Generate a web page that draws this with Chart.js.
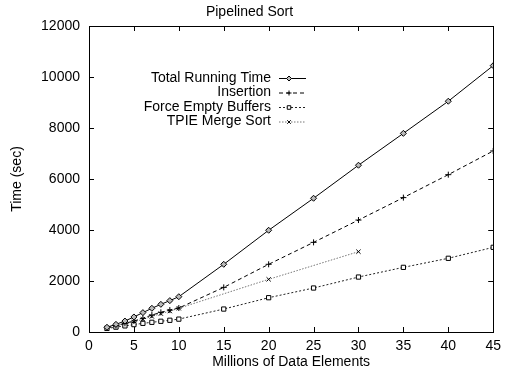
<!DOCTYPE html>
<html>
<head>
<meta charset="utf-8">
<script src="https://cdn.jsdelivr.net/npm/chart.js@4.4.0/dist/chart.umd.min.js"></script>
<style>
  html, body { margin: 0; padding: 0; background: #fff; }
  #wrap { width: 507px; height: 373px; }
</style>
</head>
<body>
<div id="wrap"><canvas id="sortChart" width="507" height="373"></canvas></div>
<script>
// x positions (millions of data elements)
const sizes = [2, 3, 4, 5, 6, 7, 8, 9, 10, 15, 20, 25, 30, 35, 40, 45];
const tpieSizes = [2, 3, 4, 5, 6, 7, 8, 9, 10, 20, 30];

// times in seconds
const totalTime = [185, 300, 430, 590, 760, 930, 1085, 1230, 1384, 2655, 3990, 5245, 6540, 7790, 9050, 10445];
const insertionTime = [170, 250, 340, 430, 535, 665, 770, 860, 940, 1750, 2655, 3515, 4390, 5270, 6170, 7100];
const forceEmptyTime = [140, 190, 240, 290, 340, 380, 420, 460, 505, 900, 1345, 1725, 2155, 2535, 2890, 3320];
const tpieTime = [150, 230, 310, 400, 500, 610, 720, 820, 930, 2065, 3150];

const xTicks = { min: 0, max: 45, step: 5 };
const yTicks = { min: 0, max: 12000, step: 2000 };

const FONT = "'Liberation Sans', Arial, Helvetica, sans-serif";

function pairs(xs, ys) {
    return xs.map((x, i) => ({ x: x, y: ys[i] }));
}

const seriesList = [
    { label: 'Total Running Time', data: pairs(sizes, totalTime), color: '#000', dash: [], point: 'rectRot', radius: 3, fill: '#bbb' },
    { label: 'Insertion', data: pairs(sizes, insertionTime), color: '#000', dash: [4, 3], point: 'cross', radius: 3, fill: '#000' },
    { label: 'Force Empty Buffers', data: pairs(sizes, forceEmptyTime), color: '#222', dash: [2, 2], point: 'rect', radius: 3, fill: '#fff' },
    { label: 'TPIE Merge Sort', data: pairs(tpieSizes, tpieTime), color: '#777', dash: [1.5, 1.5], point: 'crossRot', radius: 3, fill: '#000' }
];

// frame, inward tick marks and gnuplot-style key
const framePlugin = {
    id: 'frame',
    afterDraw(chart) {
        const ctx = chart.ctx;
        const a = chart.chartArea;
        const xs = chart.scales.x, ys = chart.scales.y;
        const len = 5;
        ctx.save();
        ctx.strokeStyle = '#000';
        ctx.lineWidth = 1;
        ctx.setLineDash([]);
        ctx.strokeRect(Math.round(a.left) + 0.5, Math.round(a.top) + 0.5, Math.round(a.right - a.left), Math.round(a.bottom - a.top));
        ctx.beginPath();
        xs.ticks.forEach(t => {
            const px = Math.round(xs.getPixelForValue(t.value)) + 0.5;
            ctx.moveTo(px, a.bottom); ctx.lineTo(px, a.bottom - len);
            ctx.moveTo(px, a.top); ctx.lineTo(px, a.top + len);
        });
        ys.ticks.forEach(t => {
            const py = Math.round(ys.getPixelForValue(t.value)) + 0.5;
            ctx.moveTo(a.left, py); ctx.lineTo(a.left + len, py);
            ctx.moveTo(a.right, py); ctx.lineTo(a.right - len, py);
        });
        ctx.stroke();

        // key
        const textRight = 271, lineL = 279, lineR = 306, markX = 289;
        const rowY = [78, 92.5, 107, 121.5];
        ctx.font = '14px ' + FONT;
        ctx.textAlign = 'right';
        ctx.textBaseline = 'middle';
        chart.data.datasets.forEach((ds, i) => {
            const y = rowY[i];
            ctx.fillStyle = '#000';
            ctx.fillText(ds.label, textRight, y);
            ctx.strokeStyle = ds.borderColor;
            ctx.lineWidth = 1;
            ctx.setLineDash(ds.borderDash);
            ctx.beginPath();
            ctx.moveTo(lineL, y + 0.5);
            ctx.lineTo(lineR, y + 0.5);
            ctx.stroke();
            ctx.setLineDash([]);
            ctx.strokeStyle = ds.pointBorderColor;
            ctx.fillStyle = ds.pointBackgroundColor;
            Chart.helpers.drawPoint(ctx, {
                pointStyle: ds.pointStyle, radius: 2.5, borderWidth: 1,
                rotation: 0
            }, markX, y + 0.5);
        });
        ctx.restore();
    }
};

const chart = new Chart(document.getElementById('sortChart'), {
    type: 'line',
    data: {
        datasets: seriesList.map(s => ({
            label: s.label,
            data: s.data,
            borderColor: s.color,
            borderWidth: 1,
            borderDash: s.dash,
            pointStyle: s.point,
            pointRadius: s.radius,
            pointBorderColor: '#000',
            pointBorderWidth: 1,
            pointBackgroundColor: s.fill,
            fill: false,
            tension: 0
        }))
    },
    options: {
        responsive: false,
        animation: false,
        layout: { padding: { left: 0, right: 8, top: 0, bottom: 0 } },
        plugins: {
            legend: { display: false },
            tooltip: { enabled: false },
            title: {
                display: true,
                text: 'Pipelined Sort',
                color: '#000',
                font: { family: FONT, size: 14, weight: 'normal' },
                padding: { top: 4, bottom: 5.2 }
            }
        },
        scales: {
            x: {
                type: 'linear',
                min: xTicks.min, max: xTicks.max,
                grid: { display: false, drawTicks: false },
                border: { display: false },
                ticks: { stepSize: xTicks.step, color: '#000', padding: 6, maxRotation: 0, font: { family: FONT, size: 14 }, callback: v => String(v) },
                title: { display: true, text: 'Millions of Data Elements', color: '#000', font: { family: FONT, size: 14 }, padding: { top: 0, bottom: 2.6 } },
                afterFit(scale) { scale.height = 41; }
            },
            y: {
                min: yTicks.min, max: yTicks.max,
                grid: { display: false, drawTicks: false },
                border: { display: false },
                ticks: { stepSize: yTicks.step, color: '#000', padding: 9, font: { family: FONT, size: 14 }, callback: v => String(v) },
                title: { display: true, text: 'Time (sec)', color: '#000', font: { family: FONT, size: 14 }, padding: { top: 8.6, bottom: 0 } },
                afterFit(scale) { scale.width = 89; }
            }
        }
    },
    plugins: [framePlugin]
});
</script>
</body>
</html>
